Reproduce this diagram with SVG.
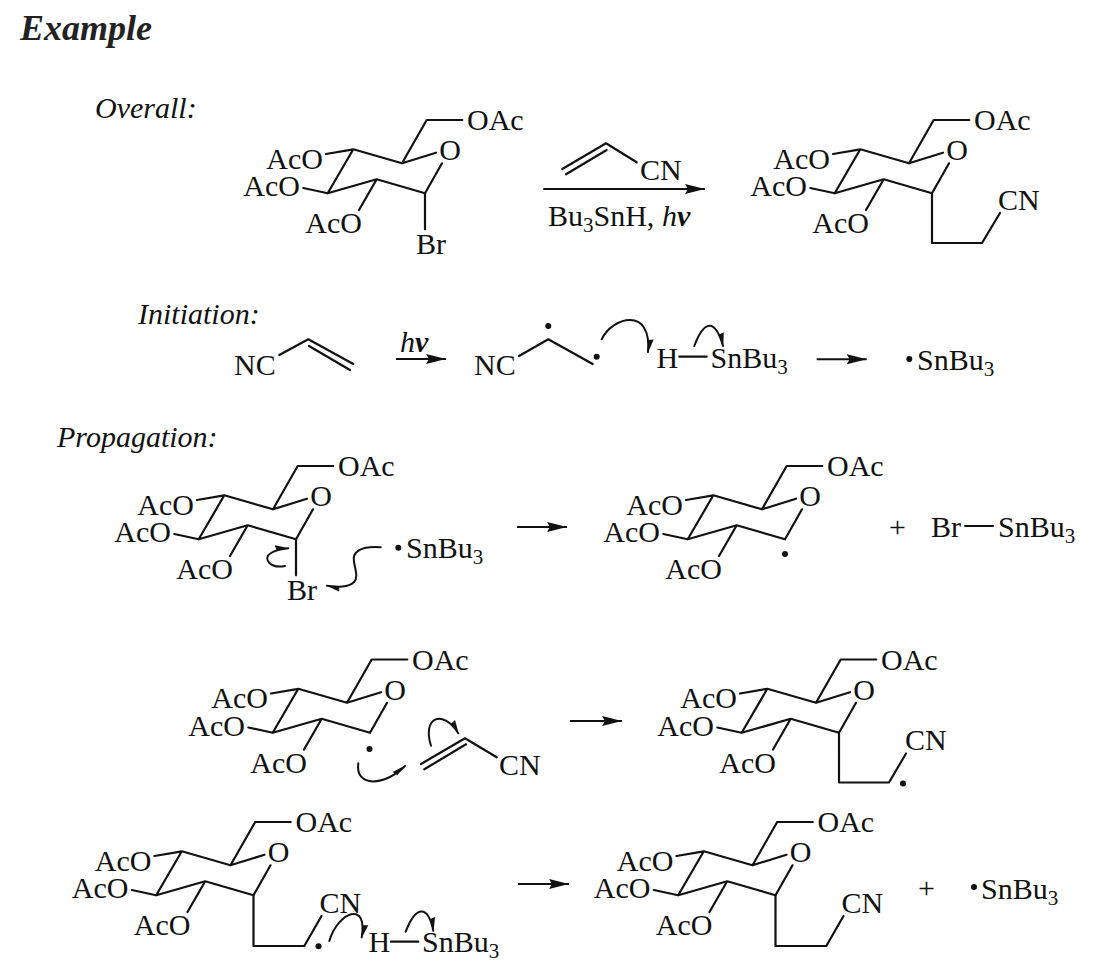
<svg xmlns="http://www.w3.org/2000/svg" width="1095" height="977" viewBox="0 0 1095 977">
<style>
text{font-family:"Liberation Serif","Times New Roman",serif;font-size:30px;fill:#111}
.i{font-style:italic}
.g{font-style:italic;font-weight:bold}
.t{font-weight:bold;font-style:italic;font-size:36px;fill:#222}
.e{text-anchor:end}
.s{font-size:21px}
.b{fill:none;stroke:#111;stroke-width:2.2;stroke-linecap:round;stroke-linejoin:round}
.r{fill:none;stroke:#111;stroke-width:2}
.c{fill:none;stroke:#111;stroke-width:2;stroke-linecap:round}
.d{fill:#111}
</style>
<defs>
<marker id="ah" markerUnits="userSpaceOnUse" markerWidth="22" markerHeight="14" refX="20" refY="7" orient="auto"><path d="M0,2 L20,7 L0,12 L3,7 Z" fill="#111"/></marker>
<marker id="ch" markerUnits="userSpaceOnUse" markerWidth="16" markerHeight="12" refX="13" refY="6" orient="auto"><path d="M0,1.5 L14,6 L1,7 Z" fill="#111"/></marker>
<path id="ring" class="b" d="M462.3,120 H426.7 L402,163.3 L436,152.7 M402,163.3 L353.3,149.3 L327.7,193.3 L376.7,179.3 L425,193.3 L442,163.3 M353.3,149.3 L326,154 M327.7,193.3 L303.3,188 M376.7,179.3 L359,210"/>
</defs>
<text class="t" x="20" y="40">Example</text>
<text class="i" x="95" y="118">Overall:</text>
<text class="i" x="138" y="324">Initiation:</text>
<text class="i" x="57" y="447">Propagation:</text>

<g id="sugar-bromide-1">
<use href="#ring"/><path class="b" d="M425,193.3 V229.3"/>
<text x="467" y="130">OAc</text><text x="450" y="160" text-anchor="middle">O</text>
<text class="e" x="323" y="168.5">AcO</text><text class="e" x="300" y="196">AcO</text><text class="e" x="362" y="233">AcO</text>
<text x="416" y="254">Br</text>
</g>
<g id="reagent-acrylonitrile">
<path class="b" d="M562.3,169 L606,143.3 L636.7,162.3 M566,174.3 L606.7,150"/>
<text x="640" y="179.5">CN</text>
<text x="548" y="226">Bu<tspan class="s" dy="6">3</tspan><tspan dy="-6">SnH, </tspan><tspan class="i">h</tspan><tspan class="g">ν</tspan></text>
</g>
<g id="product-overall" transform="translate(507,0)">
<use href="#ring"/><path class="b" d="M425,193.3 V243 H475 L493,213"/>
<text x="467" y="130">OAc</text><text x="450" y="160" text-anchor="middle">O</text>
<text class="e" x="323" y="168.5">AcO</text><text class="e" x="300" y="196">AcO</text><text class="e" x="362" y="233">AcO</text>
<text x="491" y="209.5">CN</text>
</g>

<g id="init-acrylonitrile">
<path class="b" d="M279.3,355 L308.3,339.3 L353.3,364 M309,346 L350,370"/>
<text x="234" y="375">NC</text>
</g>
<text x="400" y="351.7"><tspan class="i">h</tspan><tspan class="g">ν</tspan></text>
<g id="init-diradical">
<path class="b" d="M519,356 L548.3,339.3 L592.7,364"/>
<circle class="d" cx="548.3" cy="326" r="3"/><circle class="d" cx="596.7" cy="356.7" r="3"/>
<text x="474" y="375">NC</text>
</g>
<g id="init-hsnbu3">
<path class="b" d="M679.3,356.7 H706.7"/>
<text x="656.5" y="367.5">H</text>
<text x="710.5" y="367.5">SnBu<tspan class="s" dy="6">3</tspan></text>
</g>
<g id="init-radical">
<circle class="d" cx="909.3" cy="359" r="3"/>
<text x="917" y="370">SnBu<tspan class="s" dy="6">3</tspan></text>
</g>

<g id="prop1-bromide" transform="translate(-129,346)">
<use href="#ring"/><path class="b" d="M425,193.3 V229.3"/>
<text x="467" y="130">OAc</text><text x="450" y="160" text-anchor="middle">O</text>
<text class="e" x="323" y="168.5">AcO</text><text class="e" x="300" y="196">AcO</text><text class="e" x="362" y="233">AcO</text>
<text x="416" y="254">Br</text>
</g>
<g id="prop1-radical">
<circle class="d" cx="398.3" cy="547.7" r="3"/>
<text x="406" y="558">SnBu<tspan class="s" dy="6">3</tspan></text>
</g>
<g id="prop1-product" transform="translate(360,346)">
<use href="#ring"/>
<circle class="d" cx="425" cy="208" r="3"/>
<text x="467" y="130">OAc</text><text x="450" y="160" text-anchor="middle">O</text>
<text class="e" x="323" y="168.5">AcO</text><text class="e" x="300" y="196">AcO</text><text class="e" x="362" y="233">AcO</text>
</g>
<text x="889" y="537">+</text>
<g id="prop1-brsnbu3">
<path class="b" d="M965,526 H993"/>
<text x="931" y="537">Br</text>
<text x="998" y="537">SnBu<tspan class="s" dy="6">3</tspan></text>
</g>

<g id="prop2-radical" transform="translate(-55,539.5)">
<use href="#ring"/>
<circle class="d" cx="424.5" cy="209.5" r="3"/>
<text x="467" y="130">OAc</text><text x="450" y="160" text-anchor="middle">O</text>
<text class="e" x="323" y="168.5">AcO</text><text class="e" x="300" y="196">AcO</text><text class="e" x="362" y="233">AcO</text>
</g>
<g id="prop2-acrylonitrile">
<path class="b" d="M421,764 L465,738.3 L496.7,757.3 M424.3,769.3 L466,744.3"/>
<text x="499" y="774.5">CN</text>
</g>
<g id="prop2-product" transform="translate(414,539.5)">
<use href="#ring"/><path class="b" d="M425,193.3 V243 H475 L492,214"/>
<circle class="d" cx="489" cy="244" r="3"/>
<text x="467" y="130">OAc</text><text x="450" y="160" text-anchor="middle">O</text>
<text class="e" x="323" y="168.5">AcO</text><text class="e" x="300" y="196">AcO</text><text class="e" x="362" y="233">AcO</text>
<text x="491" y="210">CN</text>
</g>

<g id="prop3-radical" transform="translate(-171.5,702)">
<use href="#ring"/><path class="b" d="M425,193.3 V244 H475.8 L493,214"/>
<circle class="d" cx="490" cy="244.3" r="3"/>
<text x="467" y="130">OAc</text><text x="450" y="160" text-anchor="middle">O</text>
<text class="e" x="323" y="168.5">AcO</text><text class="e" x="300" y="196">AcO</text><text class="e" x="362" y="233">AcO</text>
<text x="491" y="210.5">CN</text>
</g>
<g id="prop3-hsnbu3">
<path class="b" d="M391,941.7 H418.3"/>
<text x="368.5" y="952">H</text>
<text x="422" y="952">SnBu<tspan class="s" dy="6">3</tspan></text>
</g>
<g id="prop3-product" transform="translate(350.5,702)">
<use href="#ring"/><path class="b" d="M425,193.3 V244 H475.8 L493,214"/>
<text x="467" y="130">OAc</text><text x="450" y="160" text-anchor="middle">O</text>
<text class="e" x="323" y="168.5">AcO</text><text class="e" x="300" y="196">AcO</text><text class="e" x="362" y="233">AcO</text>
<text x="491" y="210.5">CN</text>
</g>
<text x="918" y="898">+</text>
<g id="prop3-snbu3">
<circle class="d" cx="974" cy="887" r="3"/>
<text x="981" y="898.5">SnBu<tspan class="s" dy="6">3</tspan></text>
</g>

<g id="connectors">
<path class="r" marker-end="url(#ah)" d="M543.3,189 H705"/>
<path class="r" marker-end="url(#ah)" d="M396,359 H446"/>
<path class="r" marker-end="url(#ah)" d="M816.7,359.3 H866.7"/>
<path class="r" marker-end="url(#ah)" d="M517,527 H567"/>
<path class="r" marker-end="url(#ah)" d="M570,721 H622"/>
<path class="r" marker-end="url(#ah)" d="M518,884 H569"/>
<path class="c" marker-end="url(#ch)" d="M601.7,339.3 C612,317 652,306 648,352"/>
<path class="c" marker-end="url(#ch)" d="M694.3,346 C704,320 715,318 723,346"/>
<path class="c" marker-end="url(#ch)" d="M285,566 C270,569 262,558 271,553 C276,550 282,549 288.3,548.3"/>
<path class="c" marker-end="url(#ch)" d="M380.7,547.3 C360,546 352,552 354,562 C356,572 358,578 354,582 C348,588 338,587 327,585.7"/>
<path class="c" marker-end="url(#ch)" d="M358.3,763.3 C355,788 385,786 405,766"/>
<path class="c" marker-end="url(#ch)" d="M431,745.7 C422,718 442,708 458.3,733.3"/>
<path class="c" marker-end="url(#ch)" d="M329.3,941 C338,912 368,900 361.7,937.3"/>
<path class="c" marker-end="url(#ch)" d="M405.7,931.7 C416,905 428,905 433.3,930.7"/>
</g>
</svg>
